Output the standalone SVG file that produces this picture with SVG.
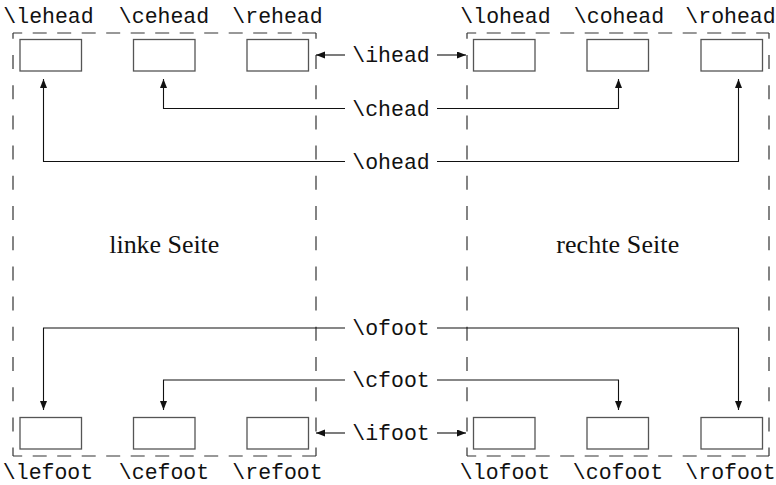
<svg xmlns="http://www.w3.org/2000/svg" width="776" height="485" viewBox="0 0 776 485">
<defs>
<marker id="ah" markerWidth="10" markerHeight="8" refX="9" refY="3.5" orient="auto" markerUnits="userSpaceOnUse"><path d="M0,0 L9,3.5 L0,7 z" fill="#111"/></marker>
</defs>
<style>
.tt{font-family:"Liberation Mono","DejaVu Sans Mono",monospace;font-size:21.5px;fill:#111;text-anchor:middle}
.rm{font-family:"Liberation Serif","DejaVu Serif",serif;font-size:26px;fill:#111;text-anchor:middle}
.box{fill:#fff;stroke:#555;stroke-width:1.3}
.fh{stroke:#333;stroke-width:1.2;stroke-dasharray:14 10.5;stroke-dashoffset:4.8}
.fv{stroke:#333;stroke-width:1.2;stroke-dasharray:14 16.2;stroke-dashoffset:8.2}
.ca{fill:none;stroke:#111;stroke-width:1.1;marker-end:url(#ah)}
</style>
<rect width="776" height="485" fill="#fff"/>
<g id="pages">
<g id="left-page">
<line class="fh" x1="13" y1="33" x2="316" y2="33"/>
<line class="fh" x1="13" y1="456" x2="316" y2="456"/>
<line class="fv" x1="13" y1="33" x2="13" y2="456"/>
<line class="fv" x1="316" y1="33" x2="316" y2="456"/>
<text class="rm" x="164.3" y="252.7" textLength="110">linke Seite</text>
</g>
<g id="right-page">
<line class="fh" x1="467" y1="33" x2="769" y2="33"/>
<line class="fh" x1="467" y1="456" x2="769" y2="456"/>
<line class="fv" x1="467" y1="33" x2="467" y2="456"/>
<line class="fv" x1="769" y1="33" x2="769" y2="456"/>
<text class="rm" x="617.7" y="252.7" textLength="123">rechte Seite</text>
</g>
</g>
<g id="lehead"><rect class="box" x="20" y="39.5" width="61.5" height="31.5"/><text class="tt" x="48.5" y="23">\lehead</text></g>
<g id="cehead"><rect class="box" x="133.5" y="39.5" width="61.5" height="31.5"/><text class="tt" x="164" y="23">\cehead</text></g>
<g id="rehead"><rect class="box" x="247" y="39.5" width="61.5" height="31.5"/><text class="tt" x="277.5" y="23">\rehead</text></g>
<g id="lohead"><rect class="box" x="473.5" y="39.5" width="61.5" height="31.5"/><text class="tt" x="505.5" y="23">\lohead</text></g>
<g id="cohead"><rect class="box" x="587" y="39.5" width="61.5" height="31.5"/><text class="tt" x="619" y="23">\cohead</text></g>
<g id="rohead"><rect class="box" x="701" y="39.5" width="61.5" height="31.5"/><text class="tt" x="730.5" y="23">\rohead</text></g>
<g id="lefoot"><rect class="box" x="20" y="417.5" width="61.5" height="31.5"/><text class="tt" x="48" y="478.5">\lefoot</text></g>
<g id="cefoot"><rect class="box" x="133.5" y="417.5" width="61.5" height="31.5"/><text class="tt" x="164" y="478.5">\cefoot</text></g>
<g id="refoot"><rect class="box" x="247" y="417.5" width="61.5" height="31.5"/><text class="tt" x="277.5" y="478.5">\refoot</text></g>
<g id="lofoot"><rect class="box" x="473.5" y="417.5" width="61.5" height="31.5"/><text class="tt" x="505" y="478.5">\lofoot</text></g>
<g id="cofoot"><rect class="box" x="587" y="417.5" width="61.5" height="31.5"/><text class="tt" x="618" y="478.5">\cofoot</text></g>
<g id="rofoot"><rect class="box" x="701" y="417.5" width="61.5" height="31.5"/><text class="tt" x="730.5" y="478.5">\rofoot</text></g>
<g id="connectors">
<path class="ca" d="M345,55 H316"/>
<path class="ca" d="M437,55 H466"/>
<path class="ca" d="M345,108.5 H163.5 V79"/>
<path class="ca" d="M437,108.5 H618.5 V79"/>
<path class="ca" d="M345,161.5 H43.5 V79"/>
<path class="ca" d="M437,161.5 H738.5 V79"/>
<path class="ca" d="M345,328 H43.5 V410"/>
<path class="ca" d="M437,328 H738.5 V410"/>
<path class="ca" d="M345,380 H163.5 V410"/>
<path class="ca" d="M437,380 H618.5 V410"/>
<path class="ca" d="M345,433 H316"/>
<path class="ca" d="M437,433 H466"/>
<text class="tt" x="391" y="62">\ihead</text>
<text class="tt" x="391" y="115.5">\chead</text>
<text class="tt" x="391" y="168.5">\ohead</text>
<text class="tt" x="391" y="335">\ofoot</text>
<text class="tt" x="391" y="387">\cfoot</text>
<text class="tt" x="391" y="440">\ifoot</text>
</g>
</svg>
